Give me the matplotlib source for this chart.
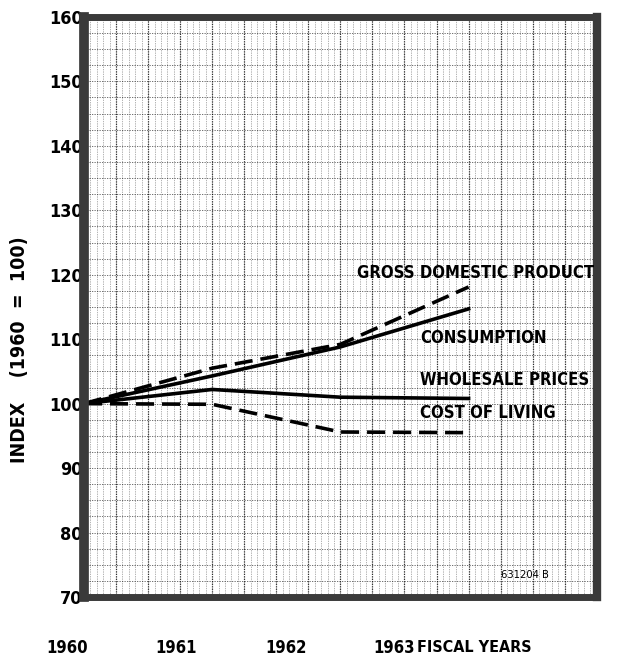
import numpy as np
import matplotlib
matplotlib.use('Agg')
import matplotlib.pyplot as plt

# index values (1960 = 100)
years = [1960, 1961, 1962, 1963]
gdp = [100, 105.5, 109.2, 118.1]
consumption = [100, 104.3, 108.8, 114.7]
wholesale = [100, 102.2, 101.0, 100.8]
cost_of_living = [100, 99.9, 95.6, 95.5]

year_labels = ["1960", "1961", "1962", "1963"]
y_ticks = [70, 80, 90, 100, 110, 120, 130, 140, 150, 160]

plt.rcParams['font.family'] = ['DejaVu Sans']
plt.rcParams['font.stretch'] = 'condensed'

fig = plt.figure(figsize=(6.2, 6.66), dpi=100)
ax = fig.add_axes([0.1355, 0.1036, 0.827, 0.871])

# graph paper
for x in np.arange(1960, 1964.001, 0.05):
    ax.axvline(x, color='black', linewidth=0.5, linestyle=(0, (1, 1.5)), alpha=0.6, zorder=0)
for x in np.arange(1960, 1964.001, 0.25):
    ax.axvline(x, color='black', linewidth=0.9, linestyle=(0, (1, 1)), alpha=0.75, zorder=0)
for y in np.arange(70, 160.001, 2.5):
    ax.axhline(y, color='black', linewidth=0.6, linestyle=(0, (1.5, 1.5)), alpha=0.65, zorder=0)

dash = (0, (5, 2.2))
ax.plot(years, gdp, color='black', linewidth=2.6, linestyle=dash)
ax.plot(years, consumption, color='black', linewidth=2.6)
ax.plot(years, wholesale, color='black', linewidth=2.6)
ax.plot(years, cost_of_living, color='black', linewidth=2.6, linestyle=dash)

ax.set_xlim(1960, 1964)
ax.set_ylim(70, 160)
ax.set_xticks([])
ax.set_yticks(y_ticks)
ax.set_yticklabels([str(v) for v in y_ticks], fontsize=13, fontweight='bold')
ax.tick_params(axis='y', length=0, pad=1)

for side, lw in [('left', 7), ('right', 6), ('top', 5), ('bottom', 5)]:
    ax.spines[side].set_linewidth(lw)
    ax.spines[side].set_color('#3a3a3a')

lab = dict(fontsize=12, fontweight='bold', va='center')
ax.text(1962.13, 120.3, "GROSS DOMESTIC PRODUCT", **lab)
ax.text(1962.62, 110.2, "CONSUMPTION", **lab)
ax.text(1962.62, 103.6, "WHOLESALE PRICES", **lab)
ax.text(1962.62, 98.6, "COST OF LIVING", **lab)
ax.text(1963.25, 73.4, "631204 B", fontsize=8, va='center')

ax.set_ylabel("INDEX    (1960  =  100)", fontsize=14, fontweight='bold')
ax.yaxis.set_label_coords(-0.107, 0.426)

# x labels sit below the frame, not on the data positions
for lbl, px in zip(year_labels, [67, 176, 286, 394]):
    fig.text(px / 620, 1 - 648 / 666, lbl, fontsize=12, fontweight='bold', ha='center', va='center')
fig.text(417 / 620, 1 - 648 / 666, "FISCAL YEARS", fontsize=11.5, fontweight='bold', ha='left', va='center')

plt.savefig("out.png", dpi=100)
plt.close()
